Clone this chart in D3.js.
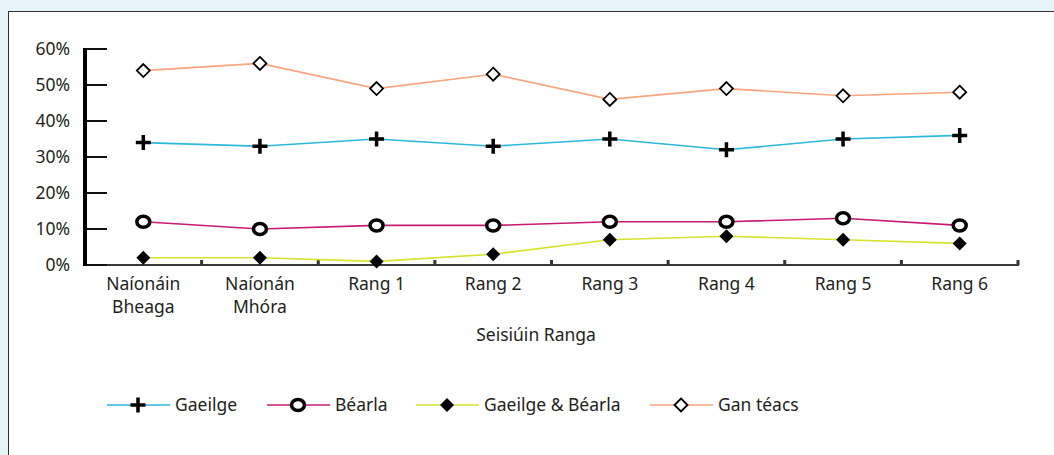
<!DOCTYPE html>
<html>
<head>
<meta charset="utf-8">
<script src="https://cdn.jsdelivr.net/npm/d3@7"></script>
<style>
  html, body { margin: 0; padding: 0; background: #e6f4f9; }
  svg { display: block; font-family: "Noto Sans", "Open Sans", sans-serif; }
</style>
</head>
<body>
<div id="chart"></div>
<script>
const categories = [["Naíonáin", "Bheaga"], ["Naíonán", "Mhóra"], ["Rang 1"], ["Rang 2"], ["Rang 3"], ["Rang 4"], ["Rang 5"], ["Rang 6"]];
const yTicks = [0, 10, 20, 30, 40, 50, 60];
const gaeilge = [34, 33, 35, 33, 35, 32, 35, 36];
const bearla = [12, 10, 11, 11, 12, 12, 13, 11];
const gaeilgeBearla = [2, 2, 1, 3, 7, 8, 7, 6];
const ganTeacs = [54, 56, 49, 53, 46, 49, 47, 48];
const seriesNames = ["Gaeilge", "Béarla", "Gaeilge & Béarla", "Gan téacs"];
const xTitle = "Seisiúin Ranga";

const series = [
  { name: seriesNames[0], values: gaeilge, color: "#2bb8dc", marker: "plus" },
  { name: seriesNames[1], values: bearla, color: "#c81a72", marker: "ring" },
  { name: seriesNames[2], values: gaeilgeBearla, color: "#d6e22c", marker: "diamondFilled" },
  { name: seriesNames[3], values: ganTeacs, color: "#f8a57d", marker: "diamondOpen" }
];

const W = 1054, H = 455;
const FS = 17.5;
const svg = d3.select("#chart").append("svg").attr("width", W).attr("height", H);

// white panel with dark border on top and left
svg.append("rect").attr("x", 8.5).attr("y", 11.5).attr("width", W + 10).attr("height", H + 10)
  .attr("fill", "#fff").attr("stroke", "#333").attr("stroke-width", 1);

const x = d3.scaleBand().domain(d3.range(categories.length)).range([85, 1018]);
const y = d3.scaleLinear().domain([0, 60]).range([265, 49]);

// x axis line and boundary ticks
const xAxis = svg.append("g");
xAxis.append("line").attr("x1", 85).attr("x2", x.range()[1] + 1).attr("y1", 265).attr("y2", 265)
  .attr("stroke", "#3a3a3a").attr("stroke-width", 2);
xAxis.selectAll("rect.bt").data(d3.range(1, categories.length + 1)).enter().append("rect")
  .attr("x", d => x(0) + d * x.step() - 1.5).attr("y", 260).attr("width", 3).attr("height", 5)
  .attr("fill", "#333");
xAxis.selectAll("text.cat").data(categories).enter().append("text")
  .attr("x", (d, i) => x(i) + x.bandwidth() / 2).attr("y", 290)
  .attr("text-anchor", "middle").attr("font-size", FS).attr("fill", "#231f20")
  .each(function (d) {
    d3.select(this).selectAll("tspan").data(d).enter().append("tspan")
      .attr("x", d3.select(this).attr("x")).attr("dy", (t, j) => j ? 23 : 0).text(t => t);
  });
svg.append("text").attr("x", 536).attr("y", 341).attr("text-anchor", "middle")
  .attr("font-size", FS).attr("fill", "#231f20").text(xTitle);

// y axis
const yAxis = svg.append("g");
yAxis.selectAll("line.tk").data(yTicks).enter().append("line")
  .attr("x1", 85).attr("x2", 107).attr("y1", d => y(d)).attr("y2", d => y(d))
  .attr("stroke", "#111").attr("stroke-width", 2);
yAxis.append("line").attr("x1", 85).attr("x2", 85).attr("y1", y(60) - 1).attr("y2", y(0) + 1)
  .attr("stroke", "#000").attr("stroke-width", 4);
yAxis.selectAll("text").data(yTicks).enter().append("text")
  .attr("x", 70).attr("y", d => y(d) + 6).attr("text-anchor", "end")
  .attr("font-size", FS).attr("fill", "#231f20").text(d => d + "%");

function drawMarker(g, type) {
  if (type === "plus") {
    g.append("path").attr("d", "M-7.5,0H7.5M0,-7.5V7.5").attr("stroke", "#000").attr("stroke-width", 3.5).attr("fill", "none");
  } else if (type === "ring") {
    g.append("ellipse").attr("rx", 6.5).attr("ry", 5.5).attr("fill", "#fff").attr("stroke", "#000").attr("stroke-width", 3.5);
  } else if (type === "diamondFilled") {
    g.append("path").attr("d", "M0,-7L7,0L0,7L-7,0Z").attr("fill", "#000");
  } else {
    g.append("path").attr("d", "M0,-6.5L6.5,0L0,6.5L-6.5,0Z").attr("fill", "#fff").attr("stroke", "#000").attr("stroke-width", 1.8);
  }
}

const line = d3.line().x((d, i) => x(i) + x.bandwidth() / 2).y(d => y(d));
series.forEach(s => {
  svg.append("path").attr("d", line(s.values)).attr("fill", "none")
    .attr("stroke", s.color).attr("stroke-width", 1.6);
});
series.forEach(s => {
  s.values.forEach((v, i) => {
    const g = svg.append("g").attr("transform", `translate(${x(i) + x.bandwidth() / 2},${y(v)})`);
    drawMarker(g, s.marker);
  });
});

// legend
const legendX = [107, 267, 416, 650];
series.forEach((s, i) => {
  const lg = svg.append("g").attr("transform", `translate(${legendX[i]},405)`);
  lg.append("line").attr("x1", 0).attr("x2", 63).attr("stroke", s.color).attr("stroke-width", 1.6);
  drawMarker(lg.append("g").attr("transform", "translate(31,0)"), s.marker);
  lg.append("text").attr("x", 68).attr("y", 6).attr("font-size", FS).attr("fill", "#231f20").text(s.name);
});
</script>
</body>
</html>
